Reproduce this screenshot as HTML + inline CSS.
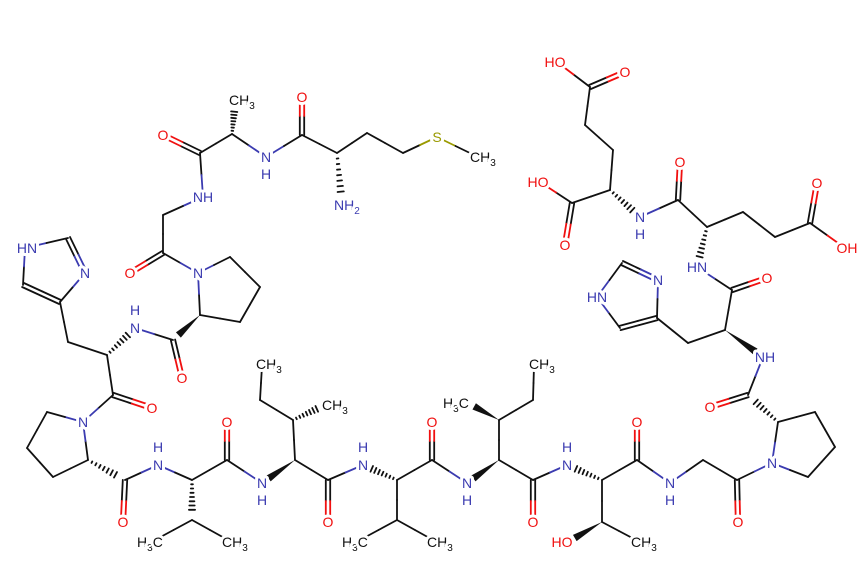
<!DOCTYPE html>
<html><head><meta charset="utf-8"><style>
html,body{margin:0;padding:0;background:#fff;width:862px;height:583px;overflow:hidden}
svg text{font-family:"Liberation Sans",Arial,sans-serif;font-size:14px;paint-order:stroke;stroke:#fff;stroke-width:6px;stroke-linejoin:round}
.n{fill:#3b3bb0}.o{fill:#f01010}.s{fill:#9a9a00}.c{fill:#111}
tspan.sub{font-size:10px}
</style></head><body>
<svg id="m" width="862" height="583" viewBox="0 0 862 583" xmlns="http://www.w3.org/2000/svg">
<g id="b" stroke-width="1.8" stroke-linecap="round"></g>
<g id="t">
<text class="c" x="229" y="105">CH<tspan class="sub" dy="4">3</tspan></text>
<text class="o" x="163" y="140" text-anchor="middle">O</text>
<text class="n" x="266" y="162" text-anchor="middle">N</text>
<text class="n" x="266" y="179" text-anchor="middle">H</text>
<text class="o" x="302" y="102" text-anchor="middle">O</text>
<text class="s" x="437" y="142" text-anchor="middle">S</text>
<text class="c" x="470" y="162">CH<tspan class="sub" dy="4">3</tspan></text>
<text class="n" x="334" y="210">NH<tspan class="sub" dy="4">2</tspan></text>
<text class="n" x="203" y="202" text-anchor="middle">NH</text>
<text class="o" x="130" y="278" text-anchor="middle">O</text>
<text class="n" x="198" y="278" text-anchor="middle">N</text>
<text class="o" x="182" y="383" text-anchor="middle">O</text>
<text class="n" x="135" y="333" text-anchor="middle">N</text>
<text class="n" x="135" y="315" text-anchor="middle">H</text>
<text class="n" x="27" y="253" text-anchor="middle">HN</text>
<text class="n" x="85" y="278" text-anchor="middle">N</text>
<text class="o" x="152" y="413" text-anchor="middle">O</text>
<text class="n" x="83" y="427" text-anchor="middle">N</text>
<text class="o" x="123" y="527" text-anchor="middle">O</text>
<text class="n" x="158" y="470" text-anchor="middle">N</text>
<text class="n" x="158" y="452" text-anchor="middle">H</text>
<text class="o" x="227" y="427" text-anchor="middle">O</text>
<text class="c" x="137" y="547">H<tspan class="sub" dy="4">3</tspan><tspan dy="-4">C</tspan></text>
<text class="c" x="222" y="547">CH<tspan class="sub" dy="4">3</tspan></text>
<text class="n" x="262" y="488" text-anchor="middle">N</text>
<text class="n" x="262" y="505" text-anchor="middle">H</text>
<text class="c" x="322" y="410">CH<tspan class="sub" dy="4">3</tspan></text>
<text class="c" x="256" y="369">CH<tspan class="sub" dy="4">3</tspan></text>
<text class="o" x="328" y="527" text-anchor="middle">O</text>
<text class="n" x="363" y="470" text-anchor="middle">N</text>
<text class="n" x="363" y="452" text-anchor="middle">H</text>
<text class="o" x="432" y="427" text-anchor="middle">O</text>
<text class="c" x="342" y="547">H<tspan class="sub" dy="4">3</tspan><tspan dy="-4">C</tspan></text>
<text class="c" x="427" y="547">CH<tspan class="sub" dy="4">3</tspan></text>
<text class="n" x="467" y="488" text-anchor="middle">N</text>
<text class="n" x="467" y="505" text-anchor="middle">H</text>
<text class="c" x="443" y="408">H<tspan class="sub" dy="4">3</tspan><tspan dy="-4">C</tspan></text>
<text class="c" x="529" y="369">CH<tspan class="sub" dy="4">3</tspan></text>
<text class="o" x="533" y="527" text-anchor="middle">O</text>
<text class="n" x="567" y="470" text-anchor="middle">N</text>
<text class="n" x="567" y="452" text-anchor="middle">H</text>
<text class="o" x="562" y="547" text-anchor="middle">HO</text>
<text class="c" x="631" y="547">CH<tspan class="sub" dy="4">3</tspan></text>
<text class="o" x="637" y="427" text-anchor="middle">O</text>
<text class="n" x="670" y="488" text-anchor="middle">N</text>
<text class="n" x="670" y="505" text-anchor="middle">H</text>
<text class="o" x="738" y="527" text-anchor="middle">O</text>
<text class="n" x="772" y="468" text-anchor="middle">N</text>
<text class="o" x="710" y="412" text-anchor="middle">O</text>
<text class="n" x="765" y="362" text-anchor="middle">NH</text>
<text class="o" x="767" y="283" text-anchor="middle">O</text>
<text class="n" x="597" y="302" text-anchor="middle">HN</text>
<text class="n" x="658" y="285" text-anchor="middle">N</text>
<text class="n" x="697" y="272" text-anchor="middle">HN</text>
<text class="o" x="680" y="167" text-anchor="middle">O</text>
<text class="o" x="817" y="188" text-anchor="middle">O</text>
<text class="o" x="847" y="253" text-anchor="middle">OH</text>
<text class="n" x="640" y="222" text-anchor="middle">N</text>
<text class="n" x="640" y="239" text-anchor="middle">H</text>
<text class="o" x="538" y="187" text-anchor="middle">HO</text>
<text class="o" x="565" y="250" text-anchor="middle">O</text>
<text class="o" x="625" y="77" text-anchor="middle">O</text>
<text class="o" x="555" y="67" text-anchor="middle">HO</text>
</g>
</svg>
<script>
var A={
ala_me:[235,104,'C'],ala_a:[232,134],ala_c:[200,153],ala_o:[163,135,'O'],n_am:[266,157,'N'],
met_c:[302,135],met_o:[302,97,'O'],met_a:[337,153],met_b:[367,133],met_g:[403,153],S:[437,137,'S'],SMe:[474,155],NH2:[342,205,'N'],
gly_n:[203,197,'N'],gly_ch2:[163,215],gly_c:[163,253],gly_o:[130,273,'O'],
p1_n:[198,273,'N'],p1_d:[230,257],p1_g:[260,287],p1_b:[240,322],p1_a:[200,315],p1_c:[173,340],p1_o:[182,378,'O'],
h1_n:[135,328,'N'],h1_a:[107,355],h1_b:[68,342],im1_c4:[60,302],im1_c5:[23,285],im1_n1:[25,248,'N'],im1_c2:[68,238],im1_n3:[85,273,'N'],
h1_c:[113,395],h1_o:[152,408,'O'],
p2_n:[83,422,'N'],p2_d:[47,412],p2_g:[27,448],p2_b:[53,477],p2_a:[88,460],p2_c:[125,480],p2_o:[123,522,'O'],
v1_n:[158,465,'N'],v1_a:[192,480],v1_c:[227,460],v1_o:[227,422,'O'],v1_b:[192,520],v1_m1:[155,540],v1_m2:[228,540],
i1_n:[262,483,'N'],i1_a:[295,460],i1_b:[293,420],i1_m:[325,405],i1_g:[260,400],i1_d:[262,366],i1_c:[328,480],i1_o:[328,522,'O'],
v2_n:[363,465,'N'],v2_a:[397,480],v2_c:[432,460],v2_o:[432,422,'O'],v2_b:[397,520],v2_m1:[360,540],v2_m2:[433,540],
i2_n:[467,483,'N'],i2_a:[499,460],i2_b:[499,420],i2_m:[468,403],i2_g:[533,400],i2_d:[534,366],i2_c:[533,480],i2_o:[533,522,'O'],
t_n:[567,465,'N'],t_a:[602,480],t_b:[602,522],t_oh:[568,542,'O'],t_me:[636,540],t_c:[637,460],t_o:[637,422,'O'],
g_n:[670,483,'N'],g_ch2:[703,460],g_c:[737,480],g_o:[738,522,'O'],
p3_n:[772,463,'N'],p3_d:[808,477],p3_g:[835,447],p3_b:[815,412],p3_a:[778,422],p3_c:[748,395],p3_o:[710,407,'O'],
h2_n:[763,357,'N'],h2_a:[725,330],h2_c:[732,290],h2_o:[767,278,'O'],h2_b:[688,343],
im2_c4:[657,318],im2_c5:[620,328],im2_n1:[597,297,'N'],im2_c2:[622,263],im2_n3:[658,280,'N'],
e1_n:[697,267,'N'],e1_a:[707,227],e1_c:[678,200],e1_o:[680,162,'O'],e1_b:[743,212],e1_g:[775,237],e1_cd:[810,223],e1_od:[817,183,'O'],e1_oh:[845,248,'O'],
e2_n:[640,217,'N'],e2_a:[610,190],e2_c:[572,203],e2_ohc:[540,182,'O'],e2_oc:[565,245,'O'],e2_b:[613,150],e2_g:[585,125],e2_cd:[590,87],e2_od:[625,72,'O'],e2_oh:[557,62,'O']
};
var B=[
['ala_a','ala_me','h'],['ala_a','ala_c'],['ala_c','ala_o',2],['ala_a','n_am'],['n_am','met_c'],['met_c','met_o',2],['met_c','met_a'],
['met_a','met_b'],['met_b','met_g'],['met_g','S'],['S','SMe'],['met_a','NH2','h'],
['ala_c','gly_n'],['gly_n','gly_ch2'],['gly_ch2','gly_c'],['gly_c','gly_o',2],['gly_c','p1_n'],
['p1_n','p1_d'],['p1_d','p1_g'],['p1_g','p1_b'],['p1_b','p1_a'],['p1_a','p1_n'],['p1_a','p1_c','w'],['p1_c','p1_o',2],['p1_c','h1_n'],
['h1_a','h1_n','h'],['h1_a','h1_b'],['h1_b','im1_c4'],['im1_c4','im1_c5',2],['im1_c5','im1_n1'],['im1_n1','im1_c2'],['im1_c2','im1_n3',2],['im1_n3','im1_c4'],
['h1_a','h1_c'],['h1_c','h1_o',2],['h1_c','p2_n'],
['p2_n','p2_d'],['p2_d','p2_g'],['p2_g','p2_b'],['p2_b','p2_a'],['p2_a','p2_n'],['p2_a','p2_c','h'],['p2_c','p2_o',2],['p2_c','v1_n'],
['v1_n','v1_a'],['v1_a','v1_c'],['v1_c','v1_o',2],['v1_a','v1_b','h'],['v1_b','v1_m1'],['v1_b','v1_m2'],['v1_c','i1_n'],
['i1_a','i1_n','w'],['i1_a','i1_b'],['i1_b','i1_m','h'],['i1_b','i1_g'],['i1_g','i1_d'],['i1_a','i1_c'],['i1_c','i1_o',2],['i1_c','v2_n'],
['v2_a','v2_n','h'],['v2_a','v2_c'],['v2_c','v2_o',2],['v2_a','v2_b'],['v2_b','v2_m1'],['v2_b','v2_m2'],['v2_c','i2_n'],
['i2_a','i2_n','w'],['i2_a','i2_b'],['i2_b','i2_m','w'],['i2_b','i2_g'],['i2_g','i2_d'],['i2_a','i2_c'],['i2_c','i2_o',2],['i2_c','t_n'],
['t_a','t_n','h'],['t_a','t_b'],['t_b','t_oh','w'],['t_b','t_me'],['t_a','t_c'],['t_c','t_o',2],['t_c','g_n'],
['g_n','g_ch2'],['g_ch2','g_c'],['g_c','g_o',2],['g_c','p3_n'],
['p3_n','p3_d'],['p3_d','p3_g'],['p3_g','p3_b'],['p3_b','p3_a'],['p3_a','p3_n'],['p3_a','p3_c','h'],['p3_c','p3_o',2],['p3_c','h2_n'],
['h2_a','h2_n','w'],['h2_a','h2_c'],['h2_c','h2_o',2],['h2_a','h2_b'],['h2_b','im2_c4'],['im2_c4','im2_c5',2],['im2_c5','im2_n1'],['im2_n1','im2_c2'],['im2_c2','im2_n3',2],['im2_n3','im2_c4'],
['h2_c','e1_n'],['e1_a','e1_n','h'],['e1_a','e1_c'],['e1_c','e1_o',2],['e1_a','e1_b'],['e1_b','e1_g'],['e1_g','e1_cd'],['e1_cd','e1_od',2],['e1_cd','e1_oh'],
['e1_c','e2_n'],['e2_a','e2_n','h'],['e2_a','e2_c'],['e2_c','e2_ohc'],['e2_c','e2_oc',2],['e2_a','e2_b'],['e2_b','e2_g'],['e2_g','e2_cd'],['e2_cd','e2_od',2],['e2_cd','e2_oh']
];
var col={N:'#3b3bb0',O:'#f01010',S:'#9a9a00'};
function C(a){return col[a[2]]||'#111';}
var g=document.getElementById('b'),h='';
function ln(x1,y1,x2,y2,c){h+='<line x1="'+x1.toFixed(1)+'" y1="'+y1.toFixed(1)+'" x2="'+x2.toFixed(1)+'" y2="'+y2.toFixed(1)+'" stroke="'+c+'"/>';}
function seg(x1,y1,x2,y2,c1,c2){var mx=(x1+x2)/2,my=(y1+y2)/2;ln(x1,y1,mx,my,c1);ln(mx,my,x2,y2,c2);}
B.forEach(function(b){var a=A[b[0]],c=A[b[1]],t=b[2];var dx=c[0]-a[0],dy=c[1]-a[1],L=Math.hypot(dx,dy),nx=-dy/L,ny=dx/L;
if(t===2){var o=2.2;seg(a[0]+nx*o,a[1]+ny*o,c[0]+nx*o,c[1]+ny*o,C(a),C(c));seg(a[0]-nx*o,a[1]-ny*o,c[0]-nx*o,c[1]-ny*o,C(a),C(c));}
else if(t==='w'){var e=0.8;var w=3.6;var ex=a[0]+dx*e,ey=a[1]+dy*e;h+='<polygon fill="#111" points="'+a[0]+','+a[1]+' '+(ex+nx*w)+','+(ey+ny*w)+' '+(ex-nx*w)+','+(ey-ny*w)+'"/>';}
else if(t==='h'){for(var i=1;i<=7;i++){var f=i/8*0.85,w2=0.5+3.5*f;var px=a[0]+dx*f,py=a[1]+dy*f;ln(px+nx*w2,py+ny*w2,px-nx*w2,py-ny*w2,'#111');}}
else seg(a[0],a[1],c[0],c[1],C(a),C(c));});
g.innerHTML=h;
</script>
</body></html>
